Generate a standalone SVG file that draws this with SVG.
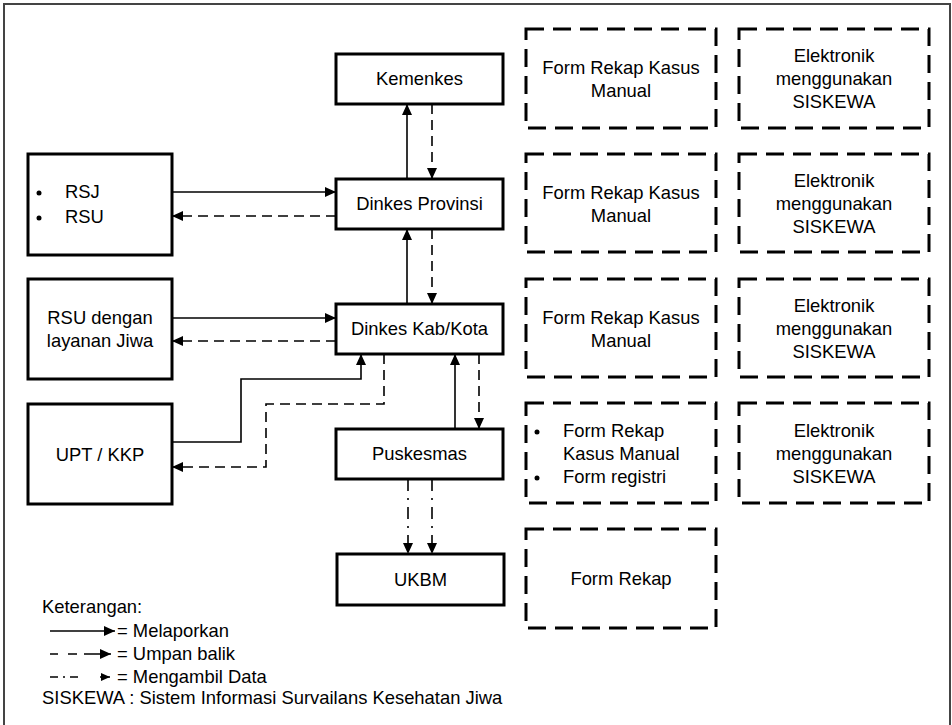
<svg xmlns="http://www.w3.org/2000/svg" width="952" height="725" viewBox="0 0 952 725">
<style>
text{font-family:"Liberation Sans",Arial,sans-serif;font-size:18.4px;fill:#000}
.c{text-anchor:middle}
.node{fill:#fff;stroke:#000;stroke-width:3}
.form{fill:none;stroke:#000;stroke-width:3;stroke-dasharray:18 9}
.ln{fill:none;stroke:#000;stroke-width:1.6}
.ds{stroke-dasharray:10 6}
.dd{stroke-dasharray:12 7 2 7}
</style>
<defs>
<marker id="ah" markerUnits="userSpaceOnUse" markerWidth="11" markerHeight="10" refX="11" refY="5" orient="auto">
<path d="M0,0 L11,5 L0,10 z" fill="#000"/>
</marker>
<marker id="ahs" markerUnits="userSpaceOnUse" markerWidth="9" markerHeight="8" refX="9" refY="4" orient="auto">
<path d="M0,0 L9,4 L0,8 z" fill="#000"/>
</marker>
</defs>
<rect x="4" y="4" width="946" height="730" fill="#fff" stroke="#444" stroke-width="2"/>

<g id="connectors">
<path class="ln" d="M172,192 H336" marker-end="url(#ah)"/>
<path class="ln ds" d="M336,216 H172" marker-end="url(#ah)"/>
<path class="ln" d="M407,179 V104" marker-end="url(#ah)"/>
<path class="ln ds" d="M432,104 V179" marker-end="url(#ah)"/>
<path class="ln" d="M407,304 V229" marker-end="url(#ah)"/>
<path class="ln ds" d="M432,229 V304" marker-end="url(#ah)"/>
<path class="ln" d="M172,318 H336" marker-end="url(#ah)"/>
<path class="ln ds" d="M336,341 H172" marker-end="url(#ah)"/>
<path class="ln" d="M172,442 H241 V379 H361 V354" marker-end="url(#ah)"/>
<path class="ln ds" d="M384,354 V404 H266 V467 H172" marker-end="url(#ah)"/>
<path class="ln" d="M455,429 V354" marker-end="url(#ah)"/>
<path class="ln ds" d="M479,354 V429" marker-end="url(#ah)"/>
<path class="ln dd" d="M408,479 V554" marker-end="url(#ah)"/>
<path class="ln dd" d="M432,479 V554" marker-end="url(#ah)"/>
</g>

<g id="kemenkes"><rect class="node" x="336" y="54" width="167" height="50"/><text class="c" x="419.5" y="85">Kemenkes</text></g>
<g id="dinkes-provinsi"><rect class="node" x="336" y="179" width="167" height="50"/><text class="c" x="419.5" y="210">Dinkes Provinsi</text></g>
<g id="dinkes-kab"><rect class="node" x="336" y="304" width="167" height="50"/><text class="c" x="419.5" y="335">Dinkes Kab/Kota</text></g>
<g id="puskesmas"><rect class="node" x="336" y="429" width="167" height="50"/><text class="c" x="419.5" y="460">Puskesmas</text></g>
<g id="ukbm"><rect class="node" x="337" y="554" width="167" height="51"/><text class="c" x="420.5" y="586">UKBM</text></g>

<g id="rsj-rsu"><rect class="node" x="28" y="154" width="144" height="101"/>
<circle cx="39" cy="193" r="2.5"/><text x="65" y="198">RSJ</text>
<circle cx="39" cy="218" r="2.5"/><text x="65" y="223">RSU</text></g>
<g id="rsu-jiwa"><rect class="node" x="28" y="279" width="144" height="100"/>
<text class="c" x="100" y="324">RSU dengan</text><text class="c" x="100" y="347">layanan Jiwa</text></g>
<g id="upt-kkp"><rect class="node" x="28" y="404" width="144" height="100"/><text class="c" x="100" y="461">UPT / KKP</text></g>

<g id="form-1"><rect class="form" x="526" y="29" width="190" height="99"/>
<text class="c" x="621" y="74">Form Rekap Kasus</text><text class="c" x="621" y="97">Manual</text></g>
<g id="elek-1"><rect class="form" x="739" y="29" width="190" height="99"/>
<text class="c" x="834" y="62">Elektronik</text><text class="c" x="834" y="85">menggunakan</text><text class="c" x="834" y="108">SISKEWA</text></g>
<g id="form-2"><rect class="form" x="526" y="154" width="190" height="98"/>
<text class="c" x="621" y="199">Form Rekap Kasus</text><text class="c" x="621" y="222">Manual</text></g>
<g id="elek-2"><rect class="form" x="739" y="154" width="190" height="98"/>
<text class="c" x="834" y="187">Elektronik</text><text class="c" x="834" y="210">menggunakan</text><text class="c" x="834" y="233">SISKEWA</text></g>
<g id="form-3"><rect class="form" x="526" y="279" width="190" height="98"/>
<text class="c" x="621" y="324">Form Rekap Kasus</text><text class="c" x="621" y="347">Manual</text></g>
<g id="elek-3"><rect class="form" x="739" y="279" width="190" height="98"/>
<text class="c" x="834" y="312">Elektronik</text><text class="c" x="834" y="335">menggunakan</text><text class="c" x="834" y="358">SISKEWA</text></g>
<g id="form-4"><rect class="form" x="526" y="403" width="190" height="100"/>
<circle cx="537" cy="432" r="2.5"/><text x="563" y="437">Form Rekap</text><text x="563" y="460">Kasus Manual</text>
<circle cx="537" cy="478" r="2.5"/><text x="563" y="483">Form registri</text></g>
<g id="elek-4"><rect class="form" x="739" y="403" width="190" height="100"/>
<text class="c" x="834" y="437">Elektronik</text><text class="c" x="834" y="460">menggunakan</text><text class="c" x="834" y="483">SISKEWA</text></g>
<g id="form-5"><rect class="form" x="526" y="529" width="190" height="99"/>
<text class="c" x="621" y="585">Form Rekap</text></g>

<g id="legend">
<text x="42" y="613">Keterangan:</text>
<path class="ln" d="M50,631 H115" marker-end="url(#ah)"/>
<text x="117" y="637">= Melaporkan</text>
<path class="ln" d="M50,654 H58 M68,654 H77 M84,654 H111" marker-end="url(#ah)"/>
<text x="117" y="660">= Umpan balik</text>
<path class="ln" d="M50,677 H58 M63,677 H65 M70,677 H78 M100,677 H110" marker-end="url(#ahs)"/>
<text x="117" y="683">= Mengambil Data</text>
<text x="42" y="704">SISKEWA : Sistem Informasi Survailans Kesehatan Jiwa</text>
</g>
</svg>
